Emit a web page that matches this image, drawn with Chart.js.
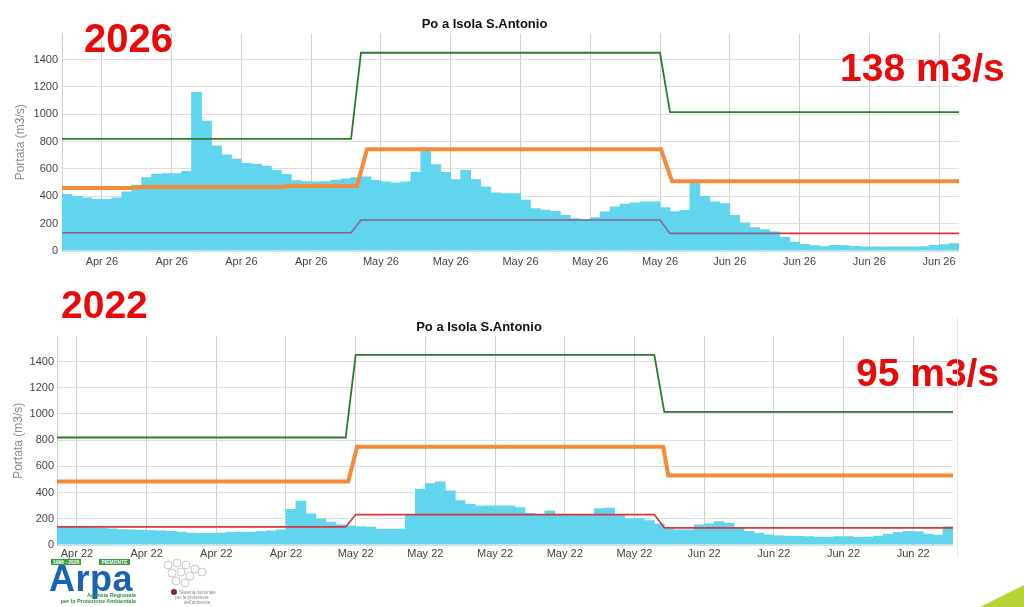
<!DOCTYPE html>
<html>
<head>
<meta charset="utf-8">
<script src="https://cdn.jsdelivr.net/npm/chart.js@4.4.1/dist/chart.umd.min.js"></script>
<style>
  body { margin: 0; background: #fff; font-family: "Liberation Sans", Arial, sans-serif; }
  #page { position: relative; width: 1024px; height: 607px; overflow: hidden; }
  canvas { position: absolute; }
  .big { position: absolute; color: #e8090b; font-weight: bold; line-height: 1; white-space: nowrap; }
  .tag { position: absolute; background: #3d9b3c; color: #fff; font-size: 5px; line-height: 6px; text-align: center; font-weight: bold; }
</style>
</head>
<body>
<div id="page">
  <canvas id="chart26" width="975" height="270" style="left:0;top:0"></canvas>
  <canvas id="chart22" width="968" height="265" style="left:0;top:299px"></canvas>

  <div class="big" style="left:84px;top:18px;font-size:40px">2026</div>
  <div class="big" style="left:840px;top:48px;font-size:39px">138 m3/s</div>
  <div class="big" style="left:61px;top:285px;font-size:39px">2022</div>
  <div class="big" style="left:856px;top:353px;font-size:39px">95 m3/s</div>

  <div style="position:absolute;left:957px;top:318px;width:1px;height:239px;background:#e4e4e4"></div>

  <!-- logos -->
  <div class="tag" style="left:51px;top:559px;width:30px">1996 - 2026</div>
  <div class="tag" style="left:99px;top:559px;width:31px">PIEMONTE</div>
  <div style="position:absolute;left:49px;top:561px;font-size:36px;font-weight:bold;color:#1a62b4;letter-spacing:0.5px;line-height:1">Arpa</div>
  <div style="position:absolute;left:60px;top:592px;width:76px;text-align:right;font-size:5.5px;font-weight:bold;color:#2f8f3a;line-height:6px">Agenzia Regionale<br>per la Protezione Ambientale</div>
  <svg style="position:absolute;left:158px;top:557px" width="80" height="50">
    <g fill="none" stroke="#c8c8c8" stroke-width="1">
      <circle cx="10" cy="8" r="4"/><circle cx="19" cy="6" r="4"/><circle cx="28" cy="8" r="4"/>
      <circle cx="37" cy="12" r="4"/><circle cx="14" cy="16" r="4"/><circle cx="23" cy="15" r="4"/>
      <circle cx="32" cy="19" r="4"/><circle cx="18" cy="24" r="4"/><circle cx="27" cy="26" r="4"/>
      <circle cx="44" cy="15" r="4"/>
    </g>
    <circle cx="16" cy="35" r="3" fill="#8a2040"/>
    <text x="21" y="37" font-size="4.5" fill="#888">Sistema nazionale</text>
    <text x="17" y="42" font-size="4.5" fill="#888">per la protezione</text>
    <text x="26" y="47" font-size="4.5" fill="#888">dell'ambiente</text>
  </svg>
  <div style="position:absolute;left:980px;top:585px;width:44px;height:22px;background:#b6d437;clip-path:polygon(0 100%,100% 0,100% 100%)"></div>
</div>

<script>
// 2026 - daily discharge, Apr 1 .. Jun 29 (m3/s)
const flow26 = [
  416, 403, 391, 381, 381, 391, 435, 484, 540, 564,
  569, 569, 586, 1163, 953, 772, 706, 674, 643, 638,
  623, 594, 564, 518, 511, 508, 511, 521, 531, 540,
  545, 520, 508, 501, 508, 577, 733, 635, 577, 525,
  594, 525, 472, 428, 423, 423, 374, 313, 301, 293,
  264, 240, 232, 247, 288, 325, 345, 354, 362, 362,
  320, 290, 300, 508, 403, 362, 350, 264, 208, 173,
  159, 142, 105, 68, 51, 42, 34, 44, 42, 37,
  32, 32, 32, 32, 32, 33, 34, 44, 49, 56
];
// 2022 - daily discharge, Apr 1 .. Jun 29 (m3/s)
const flow22 = [
  144, 144, 144, 134, 129, 126, 121, 118, 116, 113,
  111, 106, 101, 94, 91, 91, 94, 99, 101, 99,
  104, 111, 118, 275, 338, 240, 202, 177, 157, 149,
  144, 139, 124, 124, 124, 232, 429, 472, 484, 416,
  341, 313, 300, 302, 302, 302, 288, 245, 237, 263,
  237, 237, 237, 237, 280, 285, 237, 202, 204, 189,
  164, 124, 118, 118, 157, 164, 182, 170, 131, 106,
  94, 81, 73, 71, 68, 66, 63, 63, 66, 66,
  61, 63, 71, 86, 99, 106, 104, 86, 78, 144
];

// thresholds (day offset from Apr 1, value)
const greenDays26 = [0, 29, 30, 60, 61, 90];
const green26 = [820, 820, 1450, 1450, 1015, 1015];
const orangeDays26 = [0, 7, 8, 22, 23, 29.6, 30.6, 60.1, 61.2, 90];
const orange26 = [460, 460, 468, 468, 476, 476, 745, 745, 510, 510];
const redDays26 = [0, 29, 30, 60, 61, 72, 90];
const red26 = [133, 133, 227, 227, 129, 129, 129];

const greenDays22 = [0, 29, 30, 60, 61, 90];
const green22 = [820, 820, 1450, 1450, 1015, 1015];
const orangeDays22 = [0, 29.25, 30.15, 60.9, 61.4, 90];
const orange22 = [485, 485, 750, 750, 530, 530];
const redDays22 = [0, 29, 30, 60, 61, 90];
const red22 = [138, 138, 232, 232, 131, 131];

// weekly ticks (Sundays)
const tickDays26 = [4, 11, 18, 25, 32, 39, 46, 53, 60, 67, 74, 81, 88];
const tickLabels26 = ['Apr 26', 'Apr 26', 'Apr 26', 'Apr 26', 'May 26', 'May 26', 'May 26', 'May 26', 'May 26', 'Jun 26', 'Jun 26', 'Jun 26', 'Jun 26'];
const tickDays22 = [2, 9, 16, 23, 30, 37, 44, 51, 58, 65, 72, 79, 86];
const tickLabels22 = ['Apr 22', 'Apr 22', 'Apr 22', 'Apr 22', 'May 22', 'May 22', 'May 22', 'May 22', 'May 22', 'Jun 22', 'Jun 22', 'Jun 22', 'Jun 22'];
const yTicks = [0, 200, 400, 600, 800, 1000, 1200, 1400];

const FONT = "'Liberation Sans', Arial, sans-serif";

function pts(xs, ys) {
  return xs.map((x, i) => ({ x: x, y: ys[i] }));
}

function makeChart(id, o) {
  const bars = o.flow.map((v, i) => ({ x: i + 0.5, y: v }));
  const redLine = {
    type: 'line', data: pts(o.redDays, o.red), borderColor: '#d8343a', borderWidth: 1.6,
    pointRadius: 0, order: 1
  };
  // where the red threshold runs under the discharge it looks purple
  if (o.purpleRed) {
    redLine.segment = {
      borderColor: ctx => o.flow[Math.floor(ctx.p0.parsed.x)] > ctx.p0.parsed.y ? '#86628e' : '#d8343a'
    };
  }
  return new Chart(document.getElementById(id), {
    type: 'bar',
    data: {
      datasets: [
        { type: 'line', data: pts(o.greenDays, o.green), borderColor: '#2c7a2e', borderWidth: 1.8, pointRadius: 0, order: 3 },
        { type: 'line', data: pts(o.orangeDays, o.orange), borderColor: '#f58a38', borderWidth: 4, pointRadius: 0, order: 2 },
        redLine,
        { data: bars, backgroundColor: 'rgb(98,213,238)', borderWidth: 0, barPercentage: 1.08, categoryPercentage: 1, order: 10 }
      ]
    },
    options: {
      responsive: false,
      animation: false,
      layout: { padding: { left: o.padLeft, right: o.padRight, top: 0, bottom: 0 } },
      plugins: {
        legend: { display: false },
        tooltip: { enabled: false },
        title: {
          display: true, text: 'Po a Isola S.Antonio', color: '#111',
          font: { family: FONT, size: 13, weight: 'bold' },
          padding: { top: o.titleTop, bottom: 1 }
        }
      },
      scales: {
        x: {
          type: 'linear', min: 0, max: 90, offset: false,
          grid: { color: '#d2d2d2', drawTicks: false, offset: false },
          border: { display: false },
          afterBuildTicks: s => { s.ticks = o.tickDays.map(v => ({ value: v })); },
          afterFit: s => { s.height = 19; },
          ticks: {
            autoSkip: false, maxRotation: 0, padding: o.xTickPad, color: '#444',
            font: { family: FONT, size: 11 },
            callback: (v, i) => o.tickLabels[i]
          }
        },
        y: {
          min: 0, max: 1590,
          grid: { color: '#dddddd', drawTicks: false },
          border: { color: '#cfcfcf' },
          afterBuildTicks: s => { s.ticks = yTicks.map(v => ({ value: v })); },
          afterFit: s => { s.width = 52; },
          ticks: { padding: o.tickPad, color: '#444', font: { family: FONT, size: 11 }, callback: v => v },
          title: {
            display: true, text: 'Portata (m3/s)', color: '#8c8c8c',
            font: { family: FONT, size: 12 }, padding: { top: o.yTitlePad, bottom: 0 }
          }
        }
      }
    }
  });
}

makeChart('chart26', {
  flow: flow26, greenDays: greenDays26, green: green26, orangeDays: orangeDays26, orange: orange26,
  redDays: redDays26, red: red26, tickDays: tickDays26, tickLabels: tickLabels26,
  padLeft: 10, padRight: 16, titleTop: 17, tickPad: 4, xTickPad: 4, yTitlePad: 3, purpleRed: true
});
makeChart('chart22', {
  flow: flow22, greenDays: greenDays22, green: green22, orangeDays: orangeDays22, orange: orange22,
  redDays: redDays22, red: red22, tickDays: tickDays22, tickLabels: tickLabels22,
  padLeft: 5, padRight: 15, titleTop: 21, tickPad: 3, xTickPad: 2, yTitlePad: 6, purpleRed: false
});
</script>
</body>
</html>
